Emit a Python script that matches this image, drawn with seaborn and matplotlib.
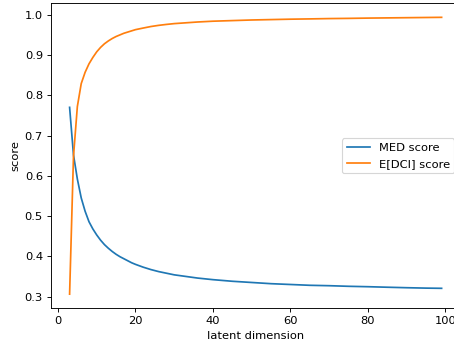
import matplotlib
matplotlib.use("Agg")
import matplotlib.pyplot as plt
import seaborn as sns
import pandas as pd

latent_dim = [3, 4, 5, 6, 7, 8, 9, 10, 11, 12, 13, 14, 15, 16, 17, 18, 19, 20,
              22, 24, 26, 28, 30, 33, 36, 40, 45, 50, 55, 60, 65, 70, 75, 80,
              85, 90, 95, 99]
med_score = [0.770, 0.652, 0.592, 0.545, 0.512, 0.486, 0.468, 0.453, 0.440,
             0.429, 0.420, 0.412, 0.405, 0.399, 0.394, 0.389, 0.384, 0.380,
             0.373, 0.367, 0.362, 0.358, 0.354, 0.350, 0.346, 0.342, 0.338,
             0.335, 0.332, 0.330, 0.328, 0.327, 0.3255, 0.3245, 0.3232,
             0.322, 0.321, 0.3205]
dci_score = [0.306, 0.648, 0.772, 0.829, 0.857, 0.878, 0.894, 0.908, 0.919,
             0.928, 0.935, 0.941, 0.946, 0.950, 0.954, 0.957, 0.960, 0.963,
             0.967, 0.9708, 0.9737, 0.976, 0.978, 0.980, 0.982, 0.984,
             0.9855, 0.987, 0.988, 0.989, 0.9897, 0.9905, 0.991, 0.9917,
             0.9922, 0.9927, 0.9932, 0.9936]
series_names = ["MED score", "E[DCI] score"]

DPI = 82.4
fig = plt.figure(figsize=(454.01 / DPI, 347.01 / DPI), dpi=DPI)
ax = fig.add_axes([51 / 454, 39 / 347, 409.2 / 454, 304.5 / 347])

df = pd.DataFrame({"latent dimension": latent_dim,
                   "med": med_score, "dci": dci_score})
sns.lineplot(data=df, x="latent dimension", y="med", ax=ax,
             color="#1f77b4", label=series_names[0], linewidth=1.5)
sns.lineplot(data=df, x="latent dimension", y="dci", ax=ax,
             color="#ff7f0e", label=series_names[1], linewidth=1.5)

ax.set_xlabel("latent dimension")
ax.set_ylabel("score")
ax.legend(loc="center right")

fig.savefig("out.png", dpi=DPI)
